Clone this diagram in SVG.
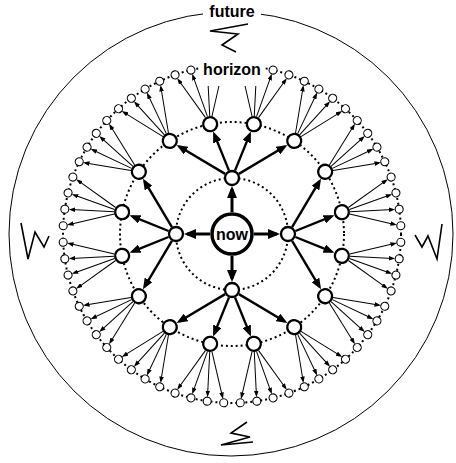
<svg xmlns="http://www.w3.org/2000/svg" width="456" height="463" viewBox="0 0 456 463">
<style>
.ring{fill:none;stroke:#000;stroke-width:2;stroke-dasharray:2 3}
.e1{stroke:#000;stroke-width:3;marker-end:url(#a1)}
.e2{stroke:#000;stroke-width:2.4;marker-end:url(#a2)}
.e3{stroke:#000;stroke-width:1;marker-end:url(#a3)}
.e3h{stroke:#000;stroke-width:1}
.n0{fill:#fff;stroke:#000;stroke-width:3.5}
.n1,.n2{fill:#fff;stroke:#000;stroke-width:2.3}
.n3{fill:#fff;stroke:#000;stroke-width:1.1}
.lbl{font-family:"Liberation Sans",Arial,Helvetica,sans-serif;font-weight:bold;font-size:16px;text-anchor:middle;fill:#000}
.zig{fill:none;stroke:#000;stroke-width:1.6;stroke-linejoin:miter}
.bg{fill:#fff}
</style>
<defs>
<marker id="a1" markerUnits="userSpaceOnUse" markerWidth="12" markerHeight="10" refX="9" refY="5" orient="auto"><path d="M0,0 L12,5 L0,10 z" fill="#000"/></marker>
<marker id="a2" markerUnits="userSpaceOnUse" markerWidth="11" markerHeight="9" refX="8" refY="4.5" orient="auto"><path d="M0,0 L11,4.5 L0,9 z" fill="#000"/></marker>
<marker id="a3" markerUnits="userSpaceOnUse" markerWidth="6.5" markerHeight="4.6" refX="4" refY="2.3" orient="auto"><path d="M0,0 L6.5,2.3 L0,4.6 z" fill="#000"/></marker>
</defs>
<rect width="456" height="463" fill="#fff"/>
<circle cx="231" cy="234" r="222" fill="none" stroke="#000" stroke-width="1"/>
<path class="zig" d="M248,24 L210,31 L238,34 L222,45 L236,52"/>
<path class="zig" d="M21,223 L28,259 L35,232 L44,247 L49,236"/>
<path class="zig" d="M415,235 L422,247 L428,236 L437,259 L442,224"/>
<path class="zig" d="M247,422 L231,433 L250,437 L221,445 L253,442"/>
<g transform="translate(232,234)">
<g id="rings">
<circle class="ring" r="56"/>
<circle class="ring" r="112"/>
<circle class="ring" r="169"/>
</g>
<g id="connectors">
<line class="e1" x1="0" y1="-22" x2="0" y2="-45" transform="rotate(0)"/>
<line class="e1" x1="0" y1="-22" x2="0" y2="-45" transform="rotate(90)"/>
<line class="e1" x1="0" y1="-22" x2="0" y2="-45" transform="rotate(180)"/>
<line class="e1" x1="0" y1="-22" x2="0" y2="-45" transform="rotate(270)"/>
<line class="e2" x1="-9.421" y1="-62.781" x2="-2.068" y2="-101.196" transform="rotate(11.25)"/>
<line class="e2" x1="-27.677" y1="-53.787" x2="-4.723" y2="-102.066" transform="rotate(33.75)"/>
<line class="e2" x1="27.677" y1="-53.787" x2="4.723" y2="-102.066" transform="rotate(56.25)"/>
<line class="e2" x1="9.421" y1="-62.781" x2="2.068" y2="-101.196" transform="rotate(78.75)"/>
<line class="e2" x1="-9.421" y1="-62.781" x2="-2.068" y2="-101.196" transform="rotate(101.25)"/>
<line class="e2" x1="-27.677" y1="-53.787" x2="-4.723" y2="-102.066" transform="rotate(123.75)"/>
<line class="e2" x1="27.677" y1="-53.787" x2="4.723" y2="-102.066" transform="rotate(146.25)"/>
<line class="e2" x1="9.421" y1="-62.781" x2="2.068" y2="-101.196" transform="rotate(168.75)"/>
<line class="e2" x1="-9.421" y1="-62.781" x2="-2.068" y2="-101.196" transform="rotate(191.25)"/>
<line class="e2" x1="-27.677" y1="-53.787" x2="-4.723" y2="-102.066" transform="rotate(213.75)"/>
<line class="e2" x1="27.677" y1="-53.787" x2="4.723" y2="-102.066" transform="rotate(236.25)"/>
<line class="e2" x1="9.421" y1="-62.781" x2="2.068" y2="-101.196" transform="rotate(258.75)"/>
<line class="e2" x1="-9.421" y1="-62.781" x2="-2.068" y2="-101.196" transform="rotate(281.25)"/>
<line class="e2" x1="-27.677" y1="-53.787" x2="-4.723" y2="-102.066" transform="rotate(303.75)"/>
<line class="e2" x1="27.677" y1="-53.787" x2="4.723" y2="-102.066" transform="rotate(326.25)"/>
<line class="e2" x1="9.421" y1="-62.781" x2="2.068" y2="-101.196" transform="rotate(348.75)"/>
<line class="e3h" x1="20.06" y1="-117.65" x2="13.07" y2="-148"/>
<line class="e3h" x1="22.26" y1="-117.84" x2="23.81" y2="-148"/>
<line class="e3h" x1="-22.26" y1="-117.84" x2="-23.81" y2="-148"/>
<line class="e3h" x1="-20.06" y1="-117.65" x2="-13.07" y2="-148"/>
<line class="e3" x1="-4.730" y1="-119.828" x2="-0.55" y2="-162.6" transform="rotate(14.0625)"/>
<line class="e3" x1="-14.260" y1="-118.487" x2="-1.59" y2="-162.8" transform="rotate(19.6875)"/>
<line class="e3" x1="14.260" y1="-118.487" x2="1.59" y2="-162.8" transform="rotate(25.3125)"/>
<line class="e3" x1="4.730" y1="-119.828" x2="0.55" y2="-162.6" transform="rotate(30.9375)"/>
<line class="e3" x1="-4.730" y1="-119.828" x2="-0.55" y2="-162.6" transform="rotate(36.5625)"/>
<line class="e3" x1="-14.260" y1="-118.487" x2="-1.59" y2="-162.8" transform="rotate(42.1875)"/>
<line class="e3" x1="14.260" y1="-118.487" x2="1.59" y2="-162.8" transform="rotate(47.8125)"/>
<line class="e3" x1="4.730" y1="-119.828" x2="0.55" y2="-162.6" transform="rotate(53.4375)"/>
<line class="e3" x1="-4.730" y1="-119.828" x2="-0.55" y2="-162.6" transform="rotate(59.0625)"/>
<line class="e3" x1="-14.260" y1="-118.487" x2="-1.59" y2="-162.8" transform="rotate(64.6875)"/>
<line class="e3" x1="14.260" y1="-118.487" x2="1.59" y2="-162.8" transform="rotate(70.3125)"/>
<line class="e3" x1="4.730" y1="-119.828" x2="0.55" y2="-162.6" transform="rotate(75.9375)"/>
<line class="e3" x1="-4.730" y1="-119.828" x2="-0.55" y2="-162.6" transform="rotate(81.5625)"/>
<line class="e3" x1="-14.260" y1="-118.487" x2="-1.59" y2="-162.8" transform="rotate(87.1875)"/>
<line class="e3" x1="14.260" y1="-118.487" x2="1.59" y2="-162.8" transform="rotate(92.8125)"/>
<line class="e3" x1="4.730" y1="-119.828" x2="0.55" y2="-162.6" transform="rotate(98.4375)"/>
<line class="e3" x1="-4.730" y1="-119.828" x2="-0.55" y2="-162.6" transform="rotate(104.0625)"/>
<line class="e3" x1="-14.260" y1="-118.487" x2="-1.59" y2="-162.8" transform="rotate(109.6875)"/>
<line class="e3" x1="14.260" y1="-118.487" x2="1.59" y2="-162.8" transform="rotate(115.3125)"/>
<line class="e3" x1="4.730" y1="-119.828" x2="0.55" y2="-162.6" transform="rotate(120.9375)"/>
<line class="e3" x1="-4.730" y1="-119.828" x2="-0.55" y2="-162.6" transform="rotate(126.5625)"/>
<line class="e3" x1="-14.260" y1="-118.487" x2="-1.59" y2="-162.8" transform="rotate(132.1875)"/>
<line class="e3" x1="14.260" y1="-118.487" x2="1.59" y2="-162.8" transform="rotate(137.8125)"/>
<line class="e3" x1="4.730" y1="-119.828" x2="0.55" y2="-162.6" transform="rotate(143.4375)"/>
<line class="e3" x1="-4.730" y1="-119.828" x2="-0.55" y2="-162.6" transform="rotate(149.0625)"/>
<line class="e3" x1="-14.260" y1="-118.487" x2="-1.59" y2="-162.8" transform="rotate(154.6875)"/>
<line class="e3" x1="14.260" y1="-118.487" x2="1.59" y2="-162.8" transform="rotate(160.3125)"/>
<line class="e3" x1="4.730" y1="-119.828" x2="0.55" y2="-162.6" transform="rotate(165.9375)"/>
<line class="e3" x1="-4.730" y1="-119.828" x2="-0.55" y2="-162.6" transform="rotate(171.5625)"/>
<line class="e3" x1="-14.260" y1="-118.487" x2="-1.59" y2="-162.8" transform="rotate(177.1875)"/>
<line class="e3" x1="14.260" y1="-118.487" x2="1.59" y2="-162.8" transform="rotate(182.8125)"/>
<line class="e3" x1="4.730" y1="-119.828" x2="0.55" y2="-162.6" transform="rotate(188.4375)"/>
<line class="e3" x1="-4.730" y1="-119.828" x2="-0.55" y2="-162.6" transform="rotate(194.0625)"/>
<line class="e3" x1="-14.260" y1="-118.487" x2="-1.59" y2="-162.8" transform="rotate(199.6875)"/>
<line class="e3" x1="14.260" y1="-118.487" x2="1.59" y2="-162.8" transform="rotate(205.3125)"/>
<line class="e3" x1="4.730" y1="-119.828" x2="0.55" y2="-162.6" transform="rotate(210.9375)"/>
<line class="e3" x1="-4.730" y1="-119.828" x2="-0.55" y2="-162.6" transform="rotate(216.5625)"/>
<line class="e3" x1="-14.260" y1="-118.487" x2="-1.59" y2="-162.8" transform="rotate(222.1875)"/>
<line class="e3" x1="14.260" y1="-118.487" x2="1.59" y2="-162.8" transform="rotate(227.8125)"/>
<line class="e3" x1="4.730" y1="-119.828" x2="0.55" y2="-162.6" transform="rotate(233.4375)"/>
<line class="e3" x1="-4.730" y1="-119.828" x2="-0.55" y2="-162.6" transform="rotate(239.0625)"/>
<line class="e3" x1="-14.260" y1="-118.487" x2="-1.59" y2="-162.8" transform="rotate(244.6875)"/>
<line class="e3" x1="14.260" y1="-118.487" x2="1.59" y2="-162.8" transform="rotate(250.3125)"/>
<line class="e3" x1="4.730" y1="-119.828" x2="0.55" y2="-162.6" transform="rotate(255.9375)"/>
<line class="e3" x1="-4.730" y1="-119.828" x2="-0.55" y2="-162.6" transform="rotate(261.5625)"/>
<line class="e3" x1="-14.260" y1="-118.487" x2="-1.59" y2="-162.8" transform="rotate(267.1875)"/>
<line class="e3" x1="14.260" y1="-118.487" x2="1.59" y2="-162.8" transform="rotate(272.8125)"/>
<line class="e3" x1="4.730" y1="-119.828" x2="0.55" y2="-162.6" transform="rotate(278.4375)"/>
<line class="e3" x1="-4.730" y1="-119.828" x2="-0.55" y2="-162.6" transform="rotate(284.0625)"/>
<line class="e3" x1="-14.260" y1="-118.487" x2="-1.59" y2="-162.8" transform="rotate(289.6875)"/>
<line class="e3" x1="14.260" y1="-118.487" x2="1.59" y2="-162.8" transform="rotate(295.3125)"/>
<line class="e3" x1="4.730" y1="-119.828" x2="0.55" y2="-162.6" transform="rotate(300.9375)"/>
<line class="e3" x1="-4.730" y1="-119.828" x2="-0.55" y2="-162.6" transform="rotate(306.5625)"/>
<line class="e3" x1="-14.260" y1="-118.487" x2="-1.59" y2="-162.8" transform="rotate(312.1875)"/>
<line class="e3" x1="14.260" y1="-118.487" x2="1.59" y2="-162.8" transform="rotate(317.8125)"/>
<line class="e3" x1="4.730" y1="-119.828" x2="0.55" y2="-162.6" transform="rotate(323.4375)"/>
<line class="e3" x1="-4.730" y1="-119.828" x2="-0.55" y2="-162.6" transform="rotate(329.0625)"/>
<line class="e3" x1="-14.260" y1="-118.487" x2="-1.59" y2="-162.8" transform="rotate(334.6875)"/>
<line class="e3" x1="14.260" y1="-118.487" x2="1.59" y2="-162.8" transform="rotate(340.3125)"/>
<line class="e3" x1="4.730" y1="-119.828" x2="0.55" y2="-162.6" transform="rotate(345.9375)"/>
</g>
<g id="now"><circle class="n0" r="20"/><text class="lbl" x="0" y="5.5">now</text></g>
<g id="l1-0"><circle class="n1" cx="0" cy="-56" r="7" transform="rotate(0)"/></g>
<g id="l1-1"><circle class="n1" cx="0" cy="-56" r="7" transform="rotate(90)"/></g>
<g id="l1-2"><circle class="n1" cx="0" cy="-56" r="7" transform="rotate(180)"/></g>
<g id="l1-3"><circle class="n1" cx="0" cy="-56" r="7" transform="rotate(270)"/></g>
<g id="l2-00"><circle class="n2" cx="0" cy="-112" r="7" transform="rotate(11.25)"/></g>
<g id="l2-01"><circle class="n2" cx="0" cy="-112" r="7" transform="rotate(33.75)"/></g>
<g id="l2-02"><circle class="n2" cx="0" cy="-112" r="7" transform="rotate(56.25)"/></g>
<g id="l2-03"><circle class="n2" cx="0" cy="-112" r="7" transform="rotate(78.75)"/></g>
<g id="l2-04"><circle class="n2" cx="0" cy="-112" r="7" transform="rotate(101.25)"/></g>
<g id="l2-05"><circle class="n2" cx="0" cy="-112" r="7" transform="rotate(123.75)"/></g>
<g id="l2-06"><circle class="n2" cx="0" cy="-112" r="7" transform="rotate(146.25)"/></g>
<g id="l2-07"><circle class="n2" cx="0" cy="-112" r="7" transform="rotate(168.75)"/></g>
<g id="l2-08"><circle class="n2" cx="0" cy="-112" r="7" transform="rotate(191.25)"/></g>
<g id="l2-09"><circle class="n2" cx="0" cy="-112" r="7" transform="rotate(213.75)"/></g>
<g id="l2-10"><circle class="n2" cx="0" cy="-112" r="7" transform="rotate(236.25)"/></g>
<g id="l2-11"><circle class="n2" cx="0" cy="-112" r="7" transform="rotate(258.75)"/></g>
<g id="l2-12"><circle class="n2" cx="0" cy="-112" r="7" transform="rotate(281.25)"/></g>
<g id="l2-13"><circle class="n2" cx="0" cy="-112" r="7" transform="rotate(303.75)"/></g>
<g id="l2-14"><circle class="n2" cx="0" cy="-112" r="7" transform="rotate(326.25)"/></g>
<g id="l2-15"><circle class="n2" cx="0" cy="-112" r="7" transform="rotate(348.75)"/></g>
<g id="l3-02"><circle class="n3" cx="0" cy="-169" r="4" transform="rotate(14.0625)"/></g>
<g id="l3-03"><circle class="n3" cx="0" cy="-169" r="4" transform="rotate(19.6875)"/></g>
<g id="l3-04"><circle class="n3" cx="0" cy="-169" r="4" transform="rotate(25.3125)"/></g>
<g id="l3-05"><circle class="n3" cx="0" cy="-169" r="4" transform="rotate(30.9375)"/></g>
<g id="l3-06"><circle class="n3" cx="0" cy="-169" r="4" transform="rotate(36.5625)"/></g>
<g id="l3-07"><circle class="n3" cx="0" cy="-169" r="4" transform="rotate(42.1875)"/></g>
<g id="l3-08"><circle class="n3" cx="0" cy="-169" r="4" transform="rotate(47.8125)"/></g>
<g id="l3-09"><circle class="n3" cx="0" cy="-169" r="4" transform="rotate(53.4375)"/></g>
<g id="l3-10"><circle class="n3" cx="0" cy="-169" r="4" transform="rotate(59.0625)"/></g>
<g id="l3-11"><circle class="n3" cx="0" cy="-169" r="4" transform="rotate(64.6875)"/></g>
<g id="l3-12"><circle class="n3" cx="0" cy="-169" r="4" transform="rotate(70.3125)"/></g>
<g id="l3-13"><circle class="n3" cx="0" cy="-169" r="4" transform="rotate(75.9375)"/></g>
<g id="l3-14"><circle class="n3" cx="0" cy="-169" r="4" transform="rotate(81.5625)"/></g>
<g id="l3-15"><circle class="n3" cx="0" cy="-169" r="4" transform="rotate(87.1875)"/></g>
<g id="l3-16"><circle class="n3" cx="0" cy="-169" r="4" transform="rotate(92.8125)"/></g>
<g id="l3-17"><circle class="n3" cx="0" cy="-169" r="4" transform="rotate(98.4375)"/></g>
<g id="l3-18"><circle class="n3" cx="0" cy="-169" r="4" transform="rotate(104.0625)"/></g>
<g id="l3-19"><circle class="n3" cx="0" cy="-169" r="4" transform="rotate(109.6875)"/></g>
<g id="l3-20"><circle class="n3" cx="0" cy="-169" r="4" transform="rotate(115.3125)"/></g>
<g id="l3-21"><circle class="n3" cx="0" cy="-169" r="4" transform="rotate(120.9375)"/></g>
<g id="l3-22"><circle class="n3" cx="0" cy="-169" r="4" transform="rotate(126.5625)"/></g>
<g id="l3-23"><circle class="n3" cx="0" cy="-169" r="4" transform="rotate(132.1875)"/></g>
<g id="l3-24"><circle class="n3" cx="0" cy="-169" r="4" transform="rotate(137.8125)"/></g>
<g id="l3-25"><circle class="n3" cx="0" cy="-169" r="4" transform="rotate(143.4375)"/></g>
<g id="l3-26"><circle class="n3" cx="0" cy="-169" r="4" transform="rotate(149.0625)"/></g>
<g id="l3-27"><circle class="n3" cx="0" cy="-169" r="4" transform="rotate(154.6875)"/></g>
<g id="l3-28"><circle class="n3" cx="0" cy="-169" r="4" transform="rotate(160.3125)"/></g>
<g id="l3-29"><circle class="n3" cx="0" cy="-169" r="4" transform="rotate(165.9375)"/></g>
<g id="l3-30"><circle class="n3" cx="0" cy="-169" r="4" transform="rotate(171.5625)"/></g>
<g id="l3-31"><circle class="n3" cx="0" cy="-169" r="4" transform="rotate(177.1875)"/></g>
<g id="l3-32"><circle class="n3" cx="0" cy="-169" r="4" transform="rotate(182.8125)"/></g>
<g id="l3-33"><circle class="n3" cx="0" cy="-169" r="4" transform="rotate(188.4375)"/></g>
<g id="l3-34"><circle class="n3" cx="0" cy="-169" r="4" transform="rotate(194.0625)"/></g>
<g id="l3-35"><circle class="n3" cx="0" cy="-169" r="4" transform="rotate(199.6875)"/></g>
<g id="l3-36"><circle class="n3" cx="0" cy="-169" r="4" transform="rotate(205.3125)"/></g>
<g id="l3-37"><circle class="n3" cx="0" cy="-169" r="4" transform="rotate(210.9375)"/></g>
<g id="l3-38"><circle class="n3" cx="0" cy="-169" r="4" transform="rotate(216.5625)"/></g>
<g id="l3-39"><circle class="n3" cx="0" cy="-169" r="4" transform="rotate(222.1875)"/></g>
<g id="l3-40"><circle class="n3" cx="0" cy="-169" r="4" transform="rotate(227.8125)"/></g>
<g id="l3-41"><circle class="n3" cx="0" cy="-169" r="4" transform="rotate(233.4375)"/></g>
<g id="l3-42"><circle class="n3" cx="0" cy="-169" r="4" transform="rotate(239.0625)"/></g>
<g id="l3-43"><circle class="n3" cx="0" cy="-169" r="4" transform="rotate(244.6875)"/></g>
<g id="l3-44"><circle class="n3" cx="0" cy="-169" r="4" transform="rotate(250.3125)"/></g>
<g id="l3-45"><circle class="n3" cx="0" cy="-169" r="4" transform="rotate(255.9375)"/></g>
<g id="l3-46"><circle class="n3" cx="0" cy="-169" r="4" transform="rotate(261.5625)"/></g>
<g id="l3-47"><circle class="n3" cx="0" cy="-169" r="4" transform="rotate(267.1875)"/></g>
<g id="l3-48"><circle class="n3" cx="0" cy="-169" r="4" transform="rotate(272.8125)"/></g>
<g id="l3-49"><circle class="n3" cx="0" cy="-169" r="4" transform="rotate(278.4375)"/></g>
<g id="l3-50"><circle class="n3" cx="0" cy="-169" r="4" transform="rotate(284.0625)"/></g>
<g id="l3-51"><circle class="n3" cx="0" cy="-169" r="4" transform="rotate(289.6875)"/></g>
<g id="l3-52"><circle class="n3" cx="0" cy="-169" r="4" transform="rotate(295.3125)"/></g>
<g id="l3-53"><circle class="n3" cx="0" cy="-169" r="4" transform="rotate(300.9375)"/></g>
<g id="l3-54"><circle class="n3" cx="0" cy="-169" r="4" transform="rotate(306.5625)"/></g>
<g id="l3-55"><circle class="n3" cx="0" cy="-169" r="4" transform="rotate(312.1875)"/></g>
<g id="l3-56"><circle class="n3" cx="0" cy="-169" r="4" transform="rotate(317.8125)"/></g>
<g id="l3-57"><circle class="n3" cx="0" cy="-169" r="4" transform="rotate(323.4375)"/></g>
<g id="l3-58"><circle class="n3" cx="0" cy="-169" r="4" transform="rotate(329.0625)"/></g>
<g id="l3-59"><circle class="n3" cx="0" cy="-169" r="4" transform="rotate(334.6875)"/></g>
<g id="l3-60"><circle class="n3" cx="0" cy="-169" r="4" transform="rotate(340.3125)"/></g>
<g id="l3-61"><circle class="n3" cx="0" cy="-169" r="4" transform="rotate(345.9375)"/></g>
</g>
<g id="horizon"><rect class="bg" x="200" y="57" width="64" height="29"/><text class="lbl" x="232" y="75">horizon</text></g>
<g id="future"><rect class="bg" x="203" y="2" width="58" height="21"/><text class="lbl" x="232" y="17">future</text></g>
</svg>
